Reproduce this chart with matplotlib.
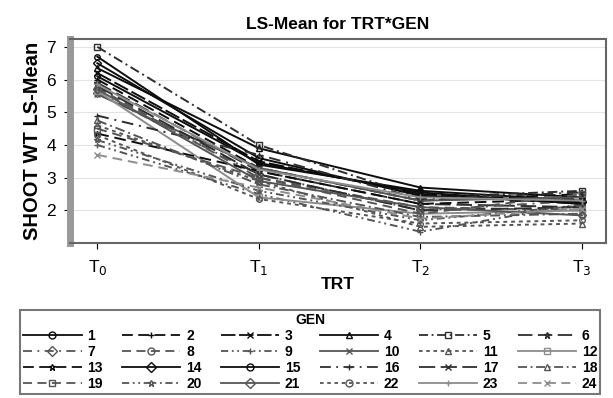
import matplotlib
matplotlib.use("Agg")
import matplotlib.pyplot as plt
from matplotlib.lines import Line2D

plt.rcParams['font.family'] = ['Liberation Sans', 'DejaVu Sans']

treatments = ["T$_0$", "T$_1$", "T$_2$", "T$_3$"]
genotypes = [str(i) for i in range(1, 25)]

t0_vals = [6.7, 6.0, 6.2, 6.35, 7.0, 5.9, 5.6, 5.75, 4.0, 5.55, 4.6, 5.65,
           4.35, 6.5, 6.1, 4.9, 5.8, 4.75, 4.5, 4.15, 5.7, 4.3, 5.85, 3.7]
t1_vals = [3.4, 3.3, 3.5, 3.9, 4.0, 3.2, 3.1, 3.0, 2.5, 3.3, 2.9, 2.4,
           3.2, 3.6, 3.45, 3.7, 3.1, 2.8, 3.0, 2.6, 2.9, 2.35, 3.25, 2.7]
t2_vals = [2.6, 2.3, 2.5, 2.7, 2.4, 2.2, 2.0, 2.1, 1.35, 2.3, 1.5, 1.9,
           2.2, 2.45, 2.55, 2.35, 2.0, 1.8, 1.9, 1.7, 2.1, 1.6, 2.4, 1.75]
t3_vals = [2.3, 2.5, 2.2, 2.4, 2.6, 2.1, 2.3, 2.0, 2.2, 2.4, 1.6, 2.0,
           2.35, 2.25, 2.2, 2.55, 2.1, 1.9, 2.5, 2.15, 1.85, 1.7, 2.3, 2.05]

BK, DG, MG, LG = '#0d0d0d', '#2e2e2e', '#555555', '#8c8c8c'
styles = [
    ('-', 'o', BK), ((0, (6, 3)), '+', BK), ((0, (8, 2)), 'x', BK), ('-', '^', BK),
    ((0, (5, 2, 1, 2)), 's', DG), ((0, (8, 3)), '*', DG),
    ((0, (5, 3, 1, 3)), 'D', MG), ((0, (5, 3)), 'o', MG), ((0, (4, 2, 1, 2, 1, 2)), '+', MG),
    ('-', 'x', MG), ((0, (2, 2)), '^', MG), ('-', 's', LG),
    ((0, (6, 3)), '*', BK), ('-', 'D', BK), ('-', 'o', BK), ((0, (6, 3, 1, 3)), '+', DG),
    ((0, (9, 3)), 'x', DG), ((0, (5, 2, 1, 2)), '^', MG),
    ((0, (5, 3)), 's', MG), ((0, (4, 2, 1, 2, 1, 2)), '*', MG), ('-', 'D', MG),
    ((0, (2, 2)), 'o', MG), ('-', '+', LG), ((0, (5, 3)), 'x', LG),
]

fig = plt.figure(figsize=(6.13, 3.98), dpi=100)
ax = fig.add_axes([0.114, 0.389, 0.875, 0.513])

x = [0, 1, 2, 3]
handles = []
for i, g in enumerate(genotypes):
    ls, mk, col = styles[i]
    ys = [t0_vals[i], t1_vals[i], t2_vals[i], t3_vals[i]]
    ax.plot(x, ys, linestyle=ls, color=col, linewidth=1.4, marker=mk,
            markersize=4, markerfacecolor='none', markeredgecolor=col, markeredgewidth=1.0)
    handles.append(Line2D([0], [0], linestyle=ls, color=col, linewidth=1.3, marker=mk,
                          markersize=5, markerfacecolor='none', markeredgecolor=col,
                          markeredgewidth=1.0, label=g))

ax.set_xlim(-0.17, 3.15)
ax.set_ylim(1.0, 7.24)
ax.set_xticks(x)
ax.set_xticklabels(treatments, fontsize=12.5)
ax.set_yticks([2, 3, 4, 5, 6, 7])
ax.tick_params(axis='y', labelsize=12.5, length=4, direction='out', pad=6)
ax.tick_params(axis='x', length=4, direction='out', pad=7)
ax.grid(axis='y', color='#e3e3e3', linewidth=0.8)
ax.set_axisbelow(True)
for s in ['top', 'right', 'bottom']:
    ax.spines[s].set_color('#666666')
    ax.spines[s].set_linewidth(1.5)
ax.spines['left'].set_color('#999999')
ax.spines['left'].set_linewidth(5)

ax.set_title("LS-Mean for TRT*GEN", fontsize=12.5, fontweight='bold', pad=7)
ax.set_ylabel("SHOOT WT LS-Mean", fontsize=14.5, fontweight='bold', labelpad=3)
ax.set_xlabel("TRT", fontsize=12.5, fontweight='bold', labelpad=0)

ordered = [handles[r * 6 + c] for c in range(6) for r in range(4)]
leg = fig.legend(handles=ordered, loc='upper left', ncol=6, mode='expand',
                 bbox_to_anchor=(0.022, -0.03, 0.968, 0.268), title="GEN",
                 title_fontproperties={'weight': 'bold', 'size': 10},
                 prop={'weight': 'bold', 'size': 10}, handlelength=4.2, numpoints=1,
                 handletextpad=0.4, columnspacing=0.5, labelspacing=0.15,
                 borderpad=0.2, fancybox=False, edgecolor='#555555', frameon=True)
leg.get_frame().set_linewidth(1.5)
fig.savefig("out.png", dpi=100)
